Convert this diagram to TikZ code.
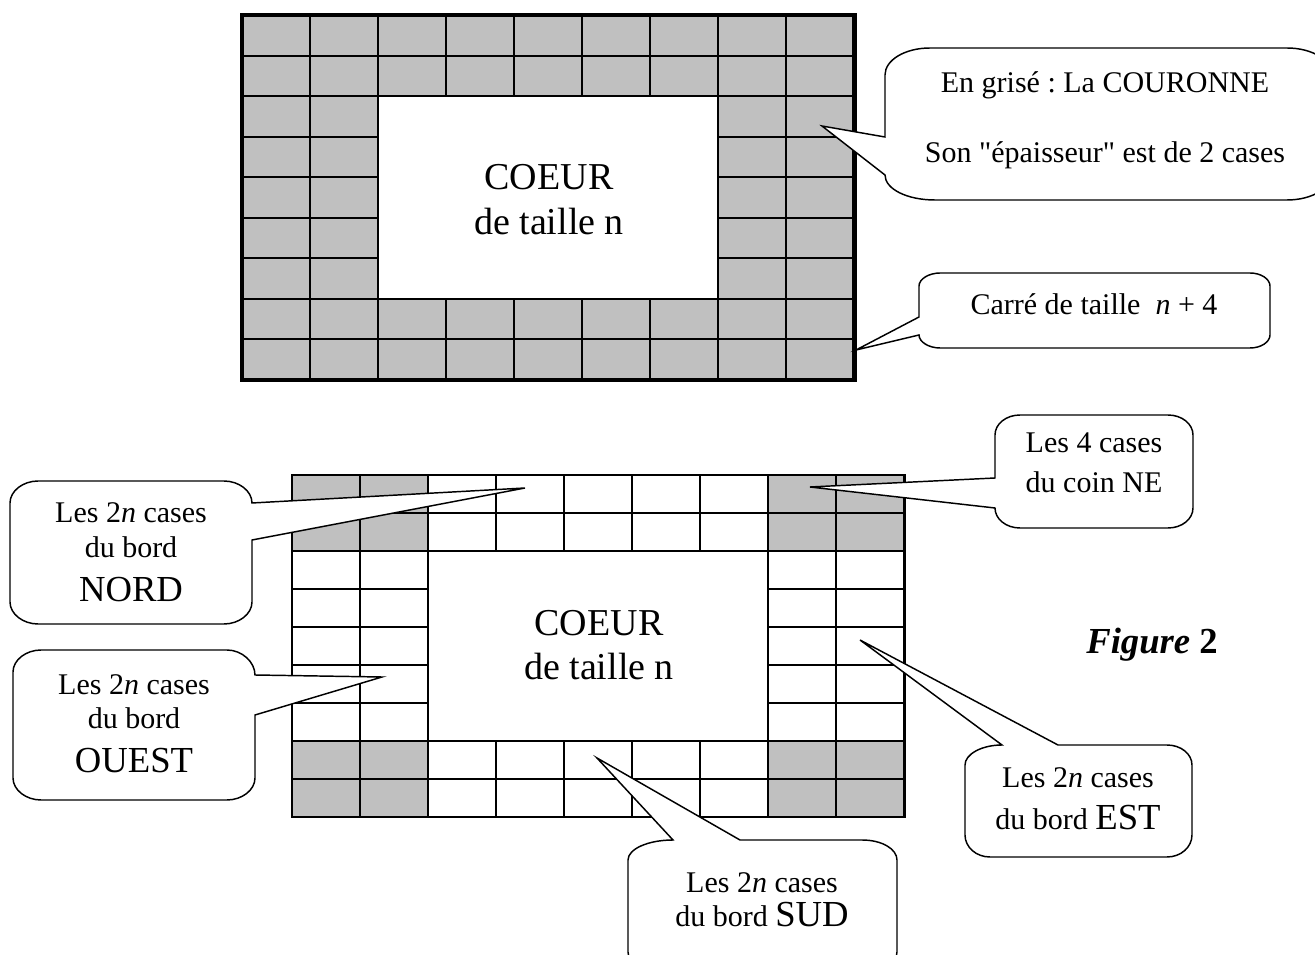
\documentclass[tikz,border=0pt]{standalone}
\usepackage{fontspec}
\setmainfont{Liberation Serif}[Ligatures=TeXOff]
\definecolor{cgray}{HTML}{C0C0C0}
\frenchspacing
\begin{document}
\begin{tikzpicture}[x=0.75pt,y=-0.75pt,
  gridline/.style={line width=1.5pt},
  balloon/.style={fill=white,draw=black,line width=1.1pt,line join=miter},
  txt/.style={anchor=base,inner sep=0pt,font=\fontsize{22.5}{27}\selectfont},
  big/.style={anchor=base,inner sep=0pt,font=\fontsize{27.5}{33}\selectfont},
  coeur/.style={anchor=base,inner sep=0pt,font=\fontsize{28.5}{34}\selectfont}]
\useasboundingbox (0,0) rectangle (1315,955);

% ---------- Figure 1 ----------
\fill[cgray] (242,15) rectangle (854.45,380);
\foreach \i in {1,...,8} \draw[gridline] ({242+68.05*\i},15) -- ({242+68.05*\i},380);
\foreach \j in {1,...,8} \draw[gridline] (242,{15+40.55*\j}) -- (854.45,{15+40.55*\j});
\filldraw[gridline,fill=white] (378.1,96.1) rectangle (718.35,298.85);
\draw[line width=3.4pt] (242,15) rectangle (854.45,380);
\node[coeur] (c1a) at (549,190) {COEUR};
\node[coeur] (c1b) at (549,235) {de taille n};

% ---------- Figure 2 ----------
\fill[cgray] (292,475) rectangle (428.1,551);
\fill[cgray] (768.35,475) rectangle (904.45,551);
\fill[cgray] (292,741) rectangle (428.1,817);
\fill[cgray] (768.35,741) rectangle (904.45,817);
\foreach \i in {1,...,8} \draw[gridline] ({292+68.05*\i},475) -- ({292+68.05*\i},817);
\foreach \j in {1,...,8} \draw[gridline] (292,{475+38*\j}) -- (904.45,{475+38*\j});
\filldraw[gridline,fill=white] (428.1,551) rectangle (768.35,741);
\draw[line width=1.8pt] (292,475) rectangle (904.45,817);
\node[coeur] (c2a) at (599,636) {COEUR};
\node[coeur] (c2b) at (599,680) {de taille n};

% ---------- tips ----------
\coordinate (tipA) at (822,126);
\coordinate (tipB) at (856,350);
\coordinate (tipN) at (525,488);
\coordinate (tipO) at (382,677);
\coordinate (tipNE) at (810,487);
\coordinate (tipE) at (860,640);
\coordinate (tipS) at (597,758);

% Callout: couronne
\draw[balloon] (930,48) -- (1287,48) .. controls (1312,48) and (1332,60) .. (1332,75)
  -- (1332,173) .. controls (1332,188) and (1312,200) .. (1287,200)
  -- (935,200) .. controls (907,200) and (885,189) .. (885,175)
  -- (tipA) -- (885,137) -- (885,75) .. controls (885,60) and (905,48) .. (930,48) -- cycle;
\node[txt] (ta1) at (1105,93) {En grisé : La COURONNE};
\node[txt] (ta2) at (1105,163) {Son "épaisseur" est de 2 cases};

% Callout: carre
\draw[balloon] (940,273) -- (1250,273) .. controls (1261,273) and (1270,279) .. (1270,286)
  -- (1270,335) .. controls (1270,342) and (1261,348) .. (1250,348)
  -- (940,348) .. controls (929,348) and (919,342) .. (919,335)
  -- (tipB) -- (919,317) -- (919,286) .. controls (919,279) and (929,273) .. (940,273) -- cycle;
\node[txt] (tb) at (1094,315) {Carré de taille\ \ \textit{n} + 4};

% Callout: NORD
\draw[balloon] (38,481) -- (224,481) .. controls (239,481) and (252,491) .. (252,503)
  -- (tipN) -- (252,540) -- (252,602) .. controls (252,614) and (239,624) .. (224,624)
  -- (38,624) .. controls (23,624) and (10,614) .. (10,602)
  -- (10,503) .. controls (10,491) and (23,481) .. (38,481) -- cycle;
\node[txt] (tn1) at (131,523) {Les 2\textit{n} cases};
\node[txt] (tn2) at (131,558) {du bord};
\node[big] (tn3) at (131,602) {NORD};

% Callout: OUEST
\draw[balloon] (41,650) -- (227,650) .. controls (242,650) and (255,662) .. (255,675)
  -- (tipO) -- (255,715) -- (255,778) .. controls (255,790) and (242,800) .. (227,800)
  -- (41,800) .. controls (26,800) and (13,790) .. (13,778)
  -- (13,672) .. controls (13,660) and (26,650) .. (41,650) -- cycle;
\node[txt] (to1) at (134,694) {Les 2\textit{n} cases};
\node[txt] (to2) at (134,728) {du bord};
\node[big] (to3) at (134,772) {OUEST};

% Callout: NE
\draw[balloon] (1020,415) -- (1168,415) .. controls (1182,415) and (1193,424) .. (1193,435)
  -- (1193,508) .. controls (1193,519) and (1182,528) .. (1168,528)
  -- (1020,528) .. controls (1006,528) and (995,519) .. (995,508)
  -- (tipNE) -- (995,478) -- (995,435) .. controls (995,424) and (1006,415) .. (1020,415) -- cycle;
\node[txt] (tne1) at (1094,453) {Les 4 cases};
\node[txt] (tne2) at (1094,493) {du coin NE};

% Callout: EST
\draw[balloon] (1002,745) -- (tipE) -- (1058,745) -- (1167,745) .. controls (1181,745) and (1192,754) .. (1192,765)
  -- (1192,835) .. controls (1192,847) and (1181,857) .. (1167,857)
  -- (990,857) .. controls (976,857) and (965,847) .. (965,835)
  -- (965,765) .. controls (965,754) and (982,745) .. (1002,745) -- cycle;
\node[txt] (te1) at (1078,787) {Les 2\textit{n} cases};
\node[txt] (te2) at (1078,829) {du bord {\fontsize{27.5}{33}\selectfont EST}};

% Callout: SUD
\draw[balloon] (673,840) -- (tipS) -- (740,840) -- (862,840) .. controls (882,840) and (897,849) .. (897,860)
  -- (897,952) .. controls (897,963) and (882,972) .. (862,972)
  -- (663,972) .. controls (643,972) and (628,963) .. (628,952)
  -- (628,860) .. controls (628,849) and (648,840) .. (673,840) -- cycle;
\node[txt] (ts1) at (762,892) {Les 2\textit{n} cases};
\node[txt] (ts2) at (762,926) {du bord {\fontsize{27.5}{33}\selectfont SUD}};

% Figure label
\node[anchor=base,inner sep=0pt,font=\fontsize{27.5}{33}\selectfont\bfseries] (fig) at (1152,653) {\textit{Figure} 2};
\end{tikzpicture}
\end{document}
